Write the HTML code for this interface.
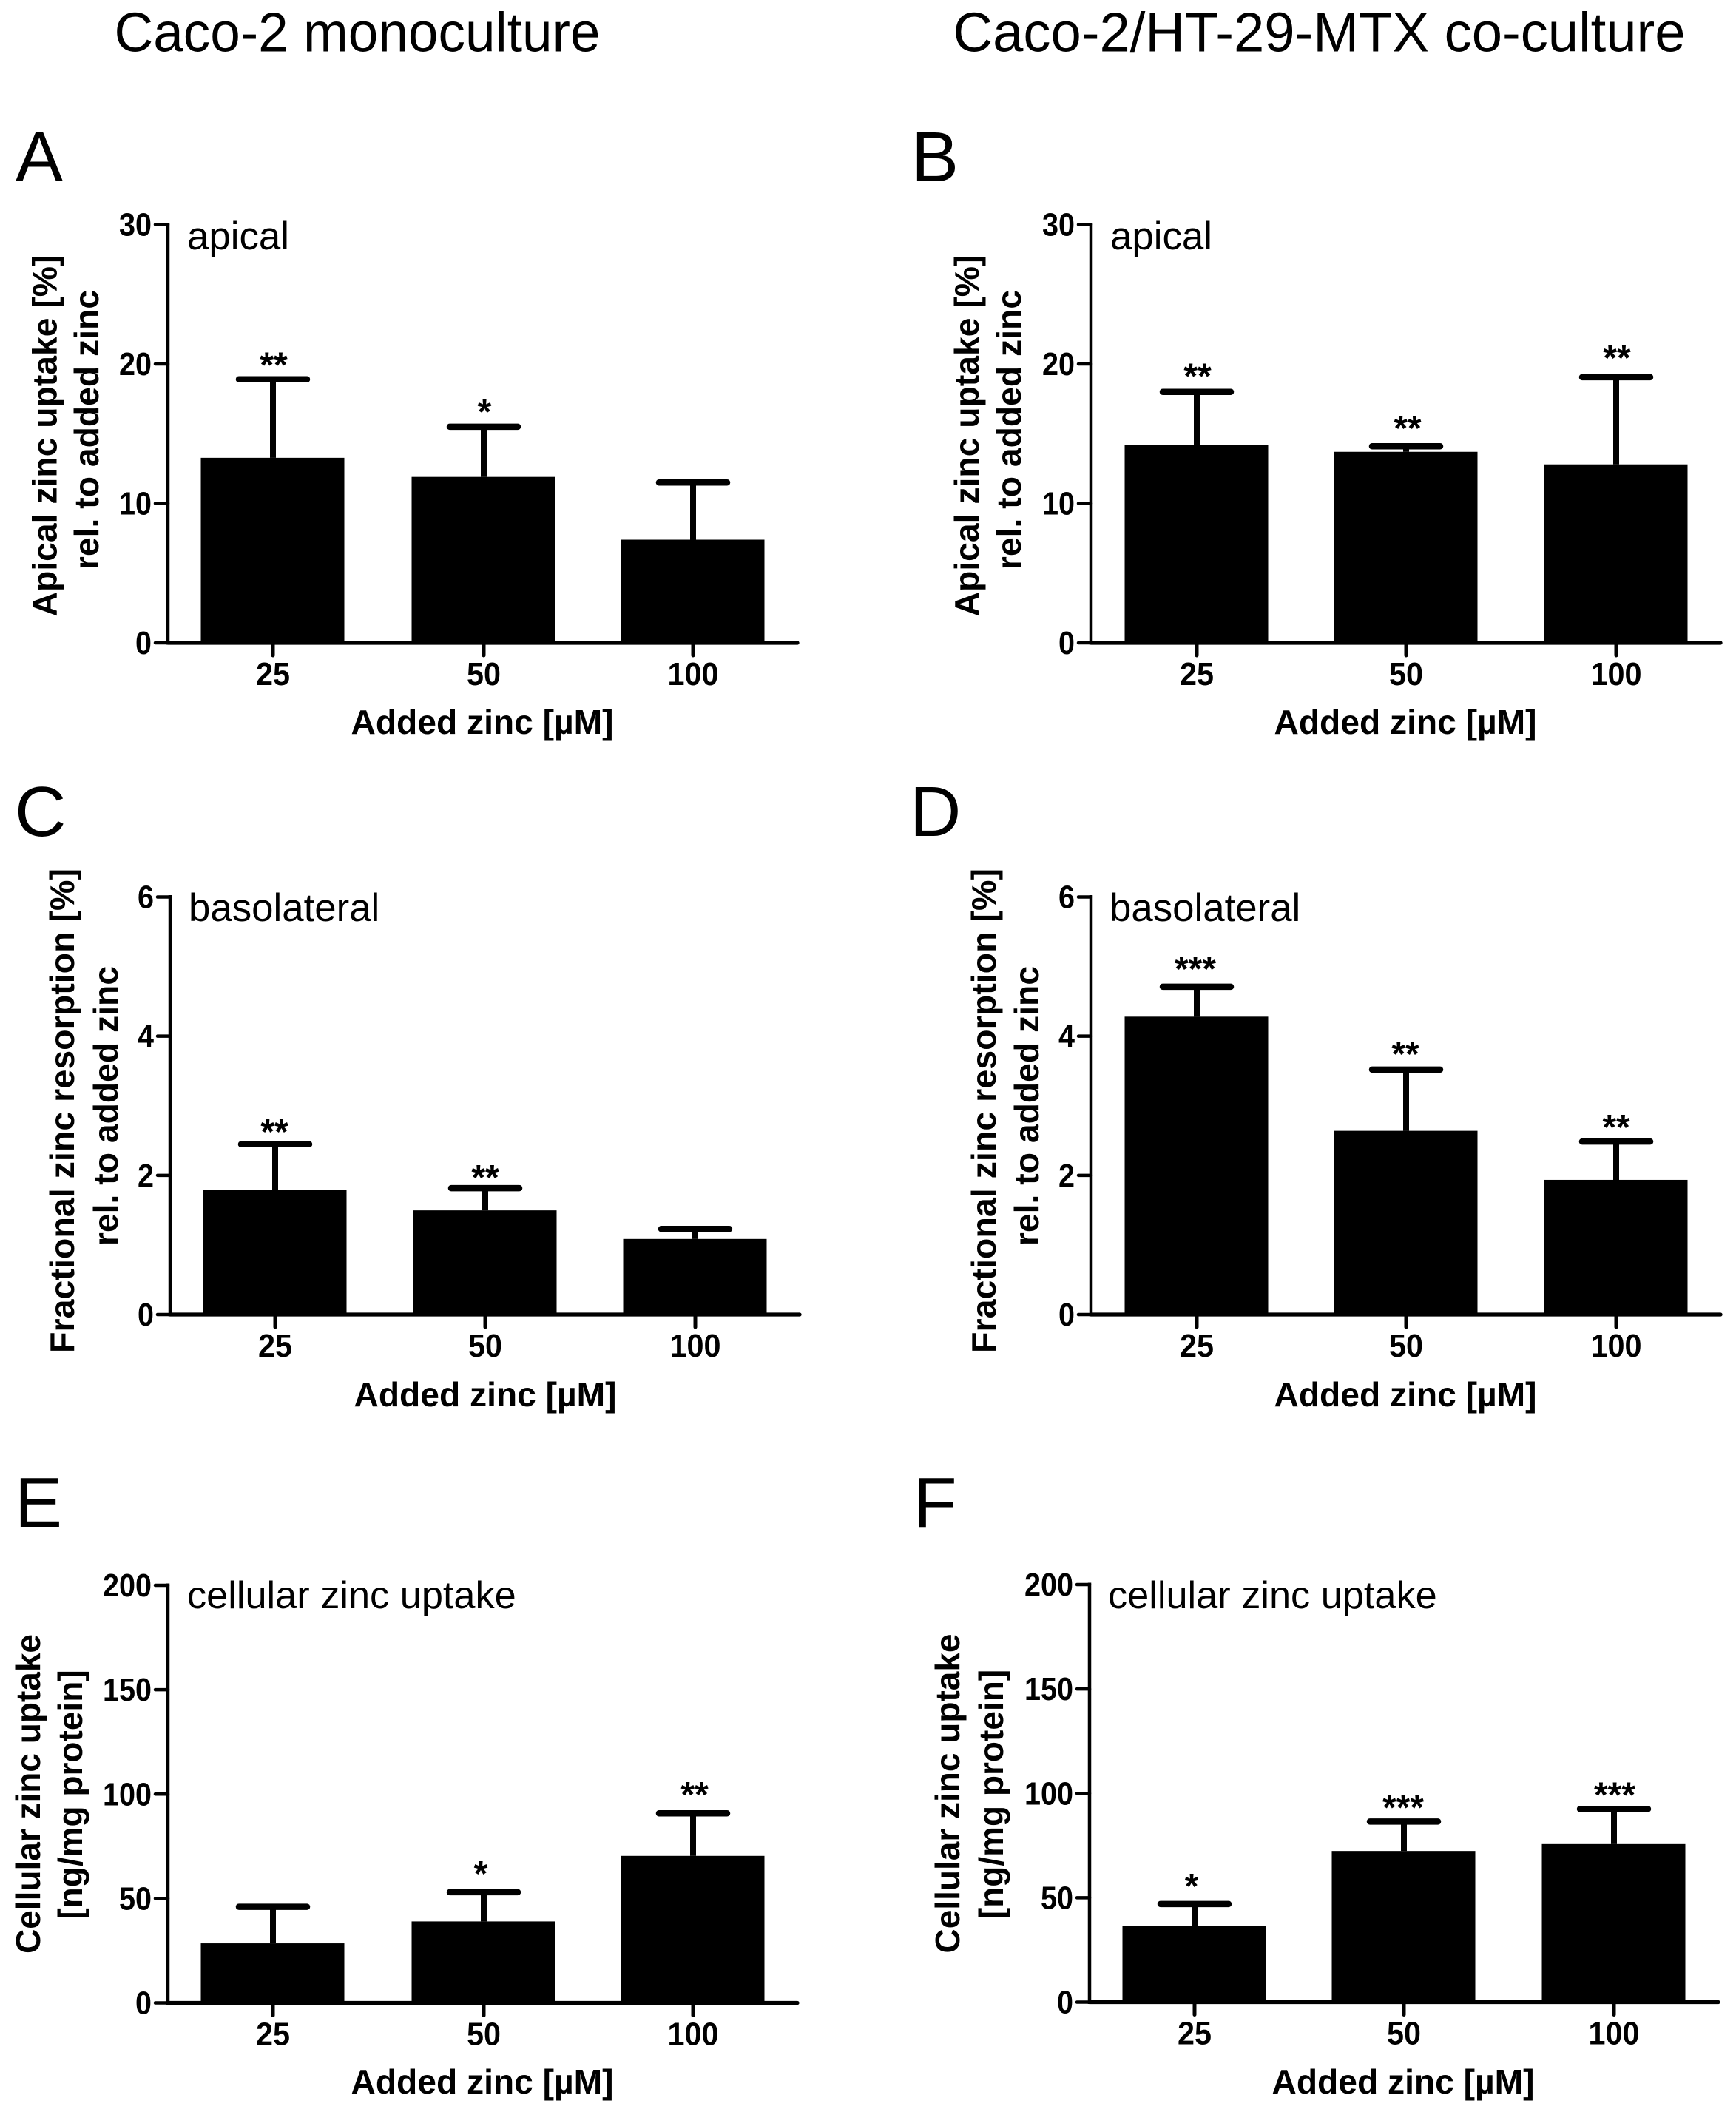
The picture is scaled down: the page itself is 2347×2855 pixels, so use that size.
<!DOCTYPE html>
<html lang="en">
<head>
<meta charset="utf-8">
<title>Zinc uptake charts</title>
<style>
html,body{margin:0;padding:0;background:#fff;}
svg{display:block;}
text{font-family:"Liberation Sans",Arial,sans-serif;fill:#000;}
.head{font-size:75px;}
.letter{font-size:96px;}
.inner{font-size:52.8px;}
.inner.long{font-size:52.3px;}
.axt{font-size:46.2px;font-weight:bold;text-anchor:middle;}
.ayt{font-size:46.3px;font-weight:bold;text-anchor:middle;}
.ayt.frac{font-size:46.6px;}
.ayt.cell{font-size:46px;}
.tick{font-size:44px;font-weight:bold;}
.sig{font-size:48px;font-weight:bold;text-anchor:middle;}
</style>
</head>
<body>
<svg id="figure" xmlns="http://www.w3.org/2000/svg" width="2347" height="2855" viewBox="0 0 2347 2855">
  <rect width="2347" height="2855" fill="#fff"/>
  <text class="head" x="154.5" y="69.5" textLength="657" lengthAdjust="spacingAndGlyphs">Caco-2 monoculture</text>
  <text class="head" x="1288.5" y="69.5" textLength="990" lengthAdjust="spacingAndGlyphs">Caco-2/HT-29-MTX co-culture</text>

  <g id="panel-a">
    <text class="letter" x="21" y="245">A</text>
    <text class="inner" x="253" y="337">apical</text>
    <text class="ayt" transform="translate(76.5,589) rotate(-90)">Apical zinc uptake [%]</text>
    <text class="ayt" transform="translate(133,581) rotate(-90)">rel. to added zinc</text>
    <text class="axt" x="652" y="992">Added zinc [µM]</text>
  </g>
  <g id="panel-b">
    <text class="letter" x="1232" y="245">B</text>
    <text class="inner" x="1501" y="337">apical</text>
    <text class="ayt" transform="translate(1323,589) rotate(-90)">Apical zinc uptake [%]</text>
    <text class="ayt" transform="translate(1380,581) rotate(-90)">rel. to added zinc</text>
    <text class="axt" x="1900" y="992">Added zinc [µM]</text>
  </g>
  <g id="panel-c">
    <text class="letter" x="20" y="1130">C</text>
    <text class="inner" x="255" y="1245">basolateral</text>
    <text class="ayt frac" transform="translate(100,1501.5) rotate(-90)">Fractional zinc resorption [%]</text>
    <text class="ayt" transform="translate(159,1495) rotate(-90)">rel. to added zinc</text>
    <text class="axt" x="656" y="1901">Added zinc [µM]</text>
  </g>
  <g id="panel-d">
    <text class="letter" x="1230" y="1130">D</text>
    <text class="inner" x="1500" y="1245">basolateral</text>
    <text class="ayt frac" transform="translate(1346,1501.5) rotate(-90)">Fractional zinc resorption [%]</text>
    <text class="ayt" transform="translate(1404,1495) rotate(-90)">rel. to added zinc</text>
    <text class="axt" x="1900" y="1901">Added zinc [µM]</text>
  </g>
  <g id="panel-e">
    <text class="letter" x="20" y="2064">E</text>
    <text class="inner long" x="253" y="2174">cellular zinc uptake</text>
    <text class="ayt cell" transform="translate(54,2425) rotate(-90)">Cellular zinc uptake</text>
    <text class="ayt cell" transform="translate(111,2426) rotate(-90)">[ng/mg protein]</text>
    <text class="axt" x="652" y="2830">Added zinc [µM]</text>
  </g>
  <g id="panel-f">
    <text class="letter" x="1235" y="2064">F</text>
    <text class="inner long" x="1498" y="2174">cellular zinc uptake</text>
    <text class="ayt cell" transform="translate(1297,2424.5) rotate(-90)">Cellular zinc uptake</text>
    <text class="ayt cell" transform="translate(1356,2425.5) rotate(-90)">[ng/mg protein]</text>
    <text class="axt" x="1897" y="2830">Added zinc [µM]</text>
  </g>
</svg>
<script>
// ---------- chart data ----------
const doses = ['25', '50', '100'];

const ticksUptakePct = [0, 10, 20, 30];
const ticksResorption = [0, 2, 4, 6];
const ticksCellular = [0, 50, 100, 150, 200];

const meansA = [13.27, 11.9, 7.4];
const errorTopsA = [18.9, 15.5, 11.5];
const sigA = ['**', '*', ''];

const meansB = [14.19, 13.7, 12.8];
const errorTopsB = [18.0, 14.1, 19.05];
const sigB = ['**', '**', '**'];

const meansC = [1.795, 1.497, 1.086];
const errorTopsC = [2.447, 1.816, 1.23];
const sigC = ['**', '**', ''];

const meansD = [4.28, 2.64, 1.935];
const errorTopsD = [4.71, 3.52, 2.486];
const sigD = ['***', '**', '**'];

const meansE = [28.5, 39, 70.4];
const errorTopsE = [46, 53, 90.8];
const sigE = ['', '*', '**'];

const meansF = [36.5, 72.4, 75.7];
const errorTopsF = [47, 86.5, 92.5];
const sigF = ['*', '***', '***'];

// ---------- layout (pixels, not data) ----------
const panels = [
  { id: 'a', axisX: 227, yTop: 303.5, yZero: 869, xEnd: 1080, band: [369, 654, 937], ticks: ticksUptakePct, means: meansA, tops: errorTopsA, sig: sigA, lift: [25, 26, 0], shift: [1, 1, 0] },
  { id: 'b', axisX: 1475, yTop: 303.5, yZero: 869, xEnd: 2328, band: [1618, 1901, 2185], ticks: ticksUptakePct, means: meansB, tops: errorTopsB, sig: sigB, lift: [27, 30, 32], shift: [1, 2, 1] },
  { id: 'c', axisX: 230, yTop: 1212.5, yZero: 1777, xEnd: 1083, band: [372, 656, 940], ticks: ticksResorption, means: meansC, tops: errorTopsC, sig: sigC, lift: [23, 20, 0], shift: [-1, 0, 0] },
  { id: 'd', axisX: 1475, yTop: 1212.5, yZero: 1777, xEnd: 2328, band: [1618, 1901, 2185], ticks: ticksResorption, means: meansD, tops: errorTopsD, sig: sigD, lift: [30, 27, 25], shift: [-2, -1, 0] },
  { id: 'e', axisX: 227, yTop: 2143, yZero: 2707.5, xEnd: 1080, band: [369, 654, 937], ticks: ticksCellular, means: meansE, tops: errorTopsE, sig: sigE, lift: [0, 31, 31], shift: [0, -4, 2] },
  { id: 'f', axisX: 1473, yTop: 2142, yZero: 2706.5, xEnd: 2325, band: [1615, 1898, 2182], ticks: ticksCellular, means: meansF, tops: errorTopsF, sig: sigF, lift: [30, 25, 25], shift: [-4, -1, 1] }
];

const SVG_NS = 'http://www.w3.org/2000/svg';
const BAR_HALF = 97;
const CAP_HALF = 46;
const STAR_ASCENT = 22;

function make(tag, props) {
  const el = document.createElementNS(SVG_NS, tag);
  for (const key in props) el.setAttribute(key, props[key]);
  return el;
}

function yScaleFor(p) {
  const maxVal = p.ticks[p.ticks.length - 1];
  return function (v) { return p.yZero - (v / maxVal) * (p.yZero - p.yTop); };
}

function xScaleFor(p) {
  return function (i) { return p.band[i]; };
}

function drawPanel(p) {
  const root = document.getElementById('panel-' + p.id);
  const y = yScaleFor(p);
  const x = xScaleFor(p);

  doses.forEach(function (dose, i) {
    const bar = make('rect', { x: x(i) - 0.5 - BAR_HALF, y: y(p.means[i]), width: BAR_HALF * 2, height: p.yZero - y(p.means[i]), fill: '#000' });
    
    
    root.appendChild(bar);

    const stem = make('line', { x1: x(i), x2: x(i), y1: y(p.means[i]), y2: y(p.tops[i]), stroke: '#000', 'stroke-width': 8 });
    
    
    root.appendChild(stem);

    const cap = make('line', { x1: x(i) - CAP_HALF, x2: x(i) + CAP_HALF, y1: y(p.tops[i]), y2: y(p.tops[i]), stroke: '#000', 'stroke-width': 8.5, 'stroke-linecap': 'round' });
    
    
    root.appendChild(cap);

    if (p.sig[i]) {
      const star = make('text', { class: 'sig', x: x(i) + p.shift[i], y: y(p.tops[i]) - p.lift[i] + STAR_ASCENT });
      star.textContent = p.sig[i];
      
      
      root.appendChild(star);
    }

    const xTick = make('line', { x1: x(i), x2: x(i), y1: p.yZero, y2: p.yZero + 17, stroke: '#000', 'stroke-width': 5, 'stroke-linecap': 'round' });
    
    
    root.appendChild(xTick);

    const xLabel = make('text', { class: 'tick', x: x(i), y: p.yZero + 57, 'text-anchor': 'middle', textLength: dose.length * 23, lengthAdjust: 'spacingAndGlyphs' });
    xLabel.textContent = dose;
    
    
    root.appendChild(xLabel);
  });

  const yAxis = make('line', { x1: p.axisX, x2: p.axisX, y1: p.yTop - 2.5, y2: p.yZero + 2.5, stroke: '#000', 'stroke-width': 4.5 });
  
  
  root.appendChild(yAxis);

  const xAxis = make('line', { x1: p.axisX, x2: p.xEnd - 2, y1: p.yZero, y2: p.yZero, stroke: '#000', 'stroke-width': 5.3, 'stroke-linecap': 'round' });
  
  
  root.appendChild(xAxis);

  p.ticks.forEach(function (t) {
    const yTick = make('line', { x1: p.axisX - 17, x2: p.axisX, y1: y(t), y2: y(t), stroke: '#000', 'stroke-width': 4.5, 'stroke-linecap': 'round' });
    
    
    root.appendChild(yTick);

    const yLabel = make('text', { class: 'tick', x: p.axisX - 22, y: y(t) + 15, 'text-anchor': 'end', textLength: String(t).length * 22, lengthAdjust: 'spacingAndGlyphs' });
    yLabel.textContent = String(t);
    
    
    root.appendChild(yLabel);
  });
}

panels.forEach(drawPanel);
</script>
</body>
</html>
